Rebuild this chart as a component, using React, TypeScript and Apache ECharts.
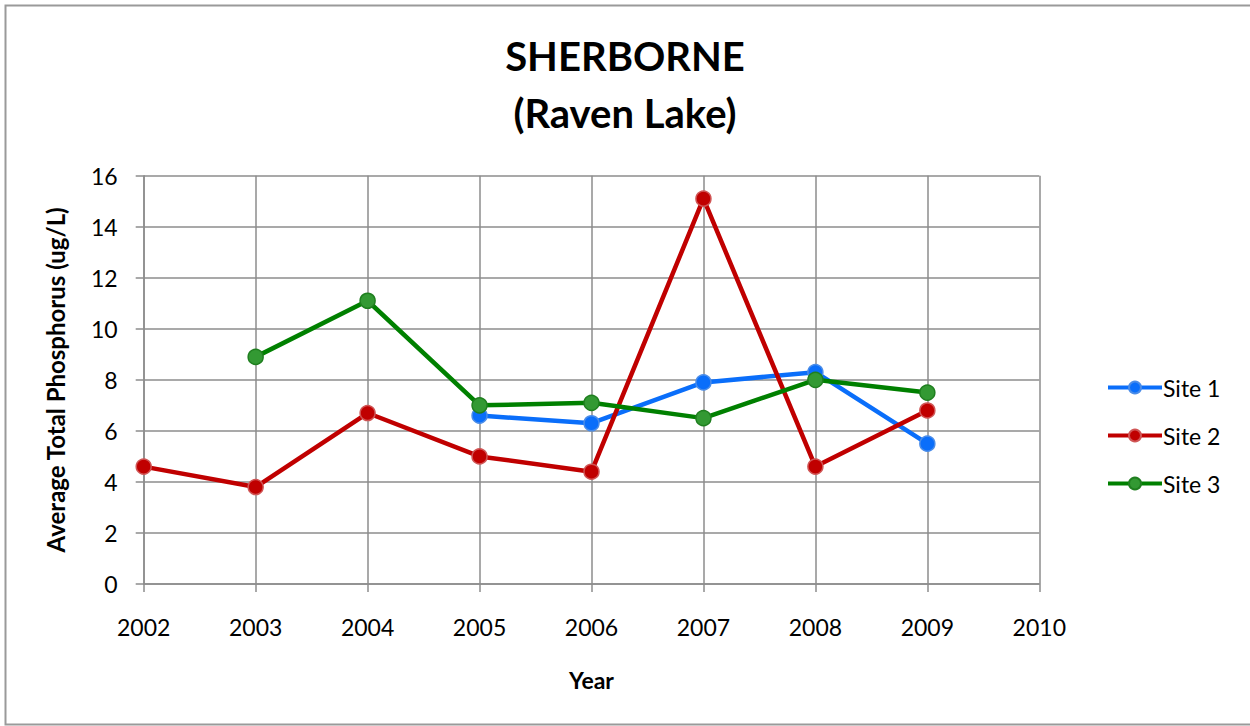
import React, { useEffect, useRef } from "react";
import * as echarts from "echarts";

const years = [2002, 2003, 2004, 2005, 2006, 2007, 2008, 2009];
const site1 = [null, null, null, 6.6, 6.3, 7.9, 8.3, 5.5];
const site2 = [4.6, 3.8, 6.7, 5.0, 4.4, 15.1, 4.6, 6.8];
const site3 = [null, 8.9, 11.1, 7.0, 7.1, 6.5, 8.0, 7.5];
const seriesNames = ["Site 1", "Site 2", "Site 3"];
const titleText = "SHERBORNE\n(Raven Lake)";
const yName = "Average Total Phosphorus (ug/L)";
const xName = "Year";

const FONT = "Lato, 'Open Sans', sans-serif";
const GRID = "#8c8c8c";

function pairs(vals: (number | null)[]) {
  return years
    .map((y, i) => (vals[i] == null ? null : [y, vals[i]]))
    .filter((p) => p !== null);
}

export default function App() {
  const ref = useRef<HTMLDivElement>(null);
  useEffect(() => {
    if (!ref.current) return;
    const chart = echarts.init(ref.current, null, { renderer: "svg" });
    const mk = (
      name: string,
      vals: (number | null)[],
      line: string,
      fill: string,
      border: string
    ) => ({
      name,
      type: "line",
      data: pairs(vals),
      symbol: "circle",
      symbolSize: 15,
      lineStyle: { color: line, width: 4.5 },
      itemStyle: { color: fill, borderColor: border, borderWidth: 1.5 },
      z: 3,
    });
    chart.setOption({
      animation: false,
      backgroundColor: "#fff",
      graphic: [
        {
          type: "rect",
          shape: { x: 5.5, y: 5.5, width: 1260, height: 719 },
          style: { fill: "none", stroke: "#9a9a9a", lineWidth: 2 },
          silent: true,
        },
      ],
      title: {
        text: titleText,
        left: "center",
        top: 22,
        textStyle: {
          fontFamily: FONT,
          fontSize: 40,
          fontWeight: "bold",
          color: "#000",
          lineHeight: 57,
        },
      },
      legend: {
        orient: "vertical",
        left: 1101,
        top: 371,
        itemWidth: 54,
        itemHeight: 15,
        itemGap: 25,
        data: seriesNames,
        lineStyle: { width: 4 },
        textStyle: { fontFamily: FONT, fontSize: 23, color: "#000", padding: [0, 0, 0, -4] },
      },
      grid: { left: 143.7, right: 210.7, top: 175.7, bottom: 142 },
      xAxis: {
        type: "value",
        min: 2002,
        max: 2010,
        interval: 1,
        name: xName,
        nameLocation: "middle",
        nameGap: 84,
        nameTextStyle: { fontFamily: FONT, fontSize: 23, fontWeight: "bold", color: "#000" },
        axisLine: { lineStyle: { color: GRID, width: 1.5 } },
        axisTick: { show: true, length: 8, lineStyle: { color: GRID, width: 1.5 } },
        axisLabel: {
          fontFamily: FONT,
          fontSize: 23,
          color: "#000",
          margin: 31,
          formatter: (v: number) => String(v),
        },
        splitLine: { show: true, lineStyle: { color: GRID, width: 1.5 } },
      },
      yAxis: {
        type: "value",
        min: 0,
        max: 16,
        interval: 2,
        name: yName,
        nameLocation: "middle",
        nameGap: 76,
        nameTextStyle: { fontFamily: FONT, fontSize: 24, fontWeight: "bold", color: "#000" },
        axisLine: { show: true, lineStyle: { color: GRID, width: 1.5 } },
        axisTick: { show: true, length: 8, lineStyle: { color: GRID, width: 1.5 } },
        axisLabel: { fontFamily: FONT, fontSize: 23, color: "#000", margin: 26 },
        splitLine: { show: true, lineStyle: { color: GRID, width: 1.5 } },
      },
      series: [
        mk("Site 1", site1, "#0A6EFA", "#0A6EFA", "#4A8CE8"),
        mk("Site 2", site2, "#C00000", "#C00000", "#D05555"),
        mk("Site 3", site3, "#008000", "#339933", "#1F7F1F"),
      ],
    });
    return () => chart.dispose();
  }, []);
  return (
    <div
      ref={ref}
      style={{ position: "absolute", left: 0, top: 0, width: 1250, height: 726 }}
    />
  );
}
